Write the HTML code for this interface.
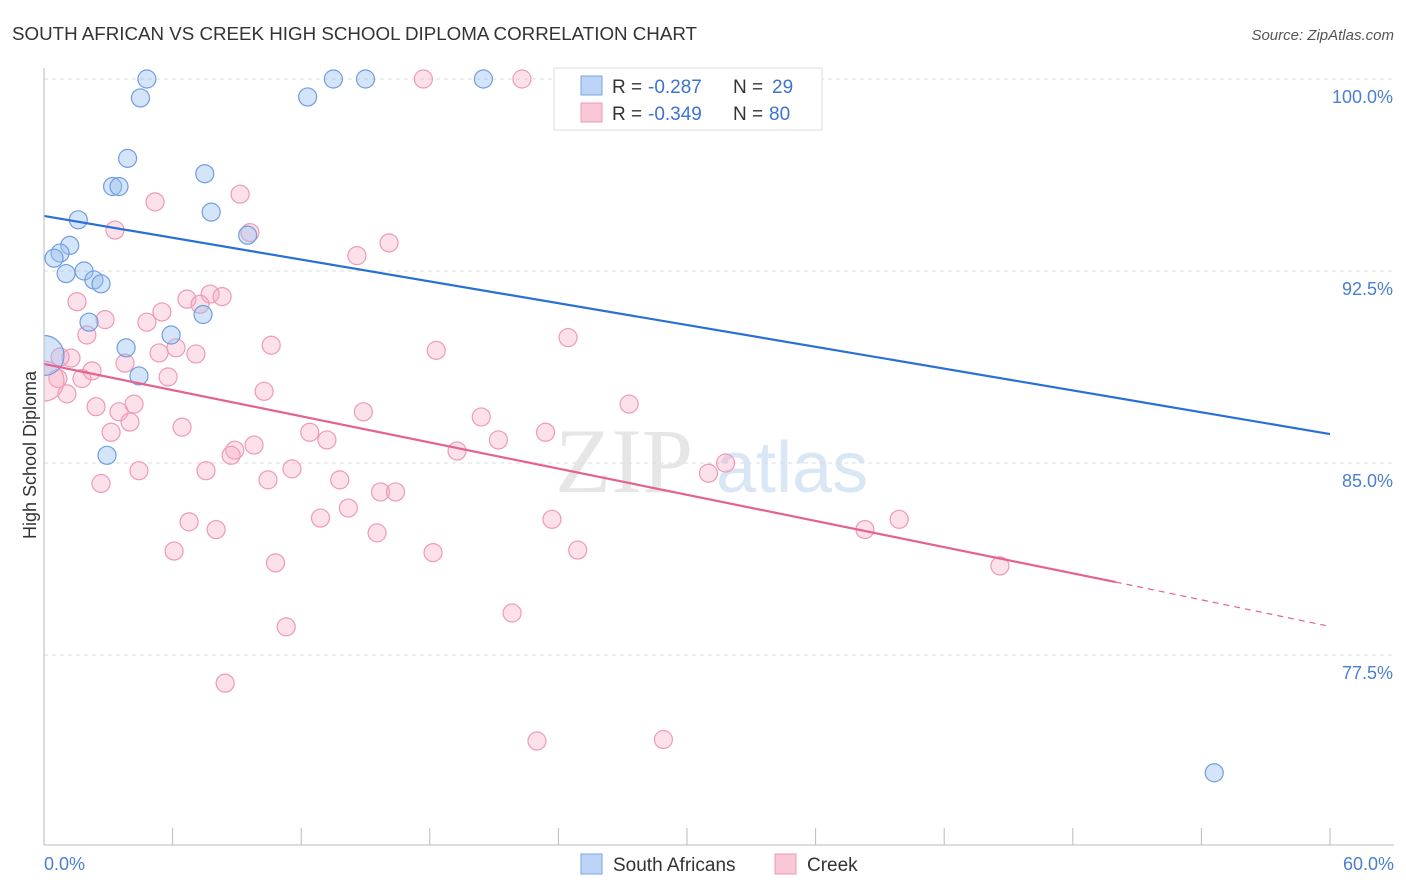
<!DOCTYPE html>
<html><head><meta charset="utf-8"><style>
body{margin:0;background:#fff;font-family:"Liberation Sans",sans-serif;}
svg{display:block}
</style></head><body>
<svg id="chart" width="1406" height="892">
<defs><clipPath id="plotclip"><rect x="44" y="40" width="1360" height="805"/></clipPath></defs>
<text x="12" y="40" font-size="18" fill="#333" textLength="685" lengthAdjust="spacingAndGlyphs">SOUTH AFRICAN VS CREEK HIGH SCHOOL DIPLOMA CORRELATION CHART</text>
<text x="1394" y="40" font-size="15" fill="#555" font-style="italic" text-anchor="end">Source: ZipAtlas.com</text>
<g><text x="555" y="492" font-size="92" fill="#e6e6e6" font-family="Liberation Serif,serif">ZIP</text><text x="716" y="492" font-size="72" fill="#d8e6f5">atlas</text></g>
<g id="grid"></g><g id="marks" clip-path="url(#plotclip)"></g><g id="lines"></g>
<line x1="44" y1="68" x2="44" y2="845" stroke="#bbb"/>
<line x1="44" y1="845" x2="1394" y2="845" stroke="#bbb"/>
<text x="36" y="455" font-size="18" fill="#333" transform="rotate(-90 36 455)" text-anchor="middle">High School Diploma</text>
<text x="44" y="870" font-size="18" fill="#4a7fd0">0.0%</text>
<text x="1394" y="870" font-size="18" fill="#4a7fd0" text-anchor="end">60.0%</text>
<g>
<rect x="554" y="68" width="268" height="62" fill="#fff" stroke="#ddd"/>
<rect x="581" y="76" width="21" height="19" fill="#bcd4f5" stroke="#7aa5e5"/>
<rect x="581" y="103" width="21" height="19" fill="#f9c8d7" stroke="#ee9ab5"/>
<text x="612" y="93" font-size="19" fill="#333">R =</text><text x="648" y="93" font-size="19" fill="#3b73d3">-0.287</text>
<text x="733" y="93" font-size="19" fill="#333">N =</text><text x="772" y="93" font-size="19" fill="#3b73d3">29</text>
<text x="612" y="120" font-size="19" fill="#333">R =</text><text x="648" y="120" font-size="19" fill="#3b73d3">-0.349</text>
<text x="733" y="120" font-size="19" fill="#333">N =</text><text x="769" y="120" font-size="19" fill="#3b73d3">80</text>
</g>
<g><rect x="581" y="854" width="21" height="20" fill="#bcd4f5" stroke="#7aa5e5"/><text x="613" y="871" font-size="19" fill="#333">South Africans</text></g>
<g><rect x="775" y="854" width="21" height="20" fill="#f9c8d7" stroke="#ee9ab5"/><text x="807" y="871" font-size="19" fill="#333">Creek</text></g>
</svg>
<script>
const yTicks=[100,92.5,85,77.5];
const yTickLabels=["100.0%","92.5%","85.0%","77.5%"];
const blueX=[4.8,4.5,13.5,15.0,20.5,12.3,33.6,3.9,3.2,3.5,7.5,7.8,1.6,9.5,1.2,0.75,0.47,1.87,1.03,2.33,2.66,7.42,2.1,5.93,3.83,4.43,2.94,0,54.6];
const blueY=[100,99.26,100,100,100,99.3,100,96.9,95.8,95.8,96.3,94.8,94.5,93.9,93.5,93.2,93.0,92.5,92.4,92.15,92.0,90.8,90.5,90.0,89.5,88.4,85.3,89.2,72.9];
const blueBig=[27];
const pinkX=[17.7,22.3,9.15,5.18,3.31,9.61,16.1,14.6,1.54,7.75,8.31,6.67,7.28,2.85,5.5,4.8,2.0,6.16,24.45,10.6,18.3,5.37,7.09,1.26,0.75,3.78,2.24,0.65,1.77,5.79,1.07,10.27,4.2,2.43,3.5,14.9,27.3,20.4,4.01,3.13,6.44,12.4,13.2,23.4,21.2,9.8,8.9,8.73,19.27,4.43,7.56,11.57,31.8,31.0,2.66,10.45,13.8,15.7,16.4,14.2,6.77,12.9,23.7,39.9,8.03,15.54,38.3,6.07,18.15,24.9,10.8,44.6,21.84,11.3,8.45,23.0,28.9,0];
const pinkY=[100,100,95.5,95.2,94.1,94.0,93.6,93.1,91.3,91.6,91.5,91.4,91.2,90.6,90.9,90.5,90.0,89.5,89.9,89.6,89.4,89.3,89.26,89.1,89.14,88.9,88.6,88.3,88.3,88.36,87.7,87.8,87.3,87.2,87.0,87.0,87.3,86.8,86.6,86.2,86.4,86.2,85.9,86.2,85.9,85.7,85.5,85.3,85.47,84.7,84.7,84.77,85.0,84.6,84.2,84.34,84.34,83.87,83.87,83.24,82.7,82.85,82.8,82.8,82.4,82.27,82.4,81.56,81.5,81.6,81.1,80.98,79.14,78.6,76.4,74.14,74.2,88.2];
const pinkBig=[77];
const blueLine=[94.65,86.13];
const pinkLine=[88.87,80.35,78.65];
const pinkLineBreakX=50;
const X=v=>44+v*(1330-44)/60;
const Y=v=>79+(100-v)*25.6;
const NS='http://www.w3.org/2000/svg';
function mk(t,a,p){const e=document.createElementNS(NS,t);for(const k in a)e.setAttribute(k,a[k]);p.appendChild(e);return e;}
const grid=document.getElementById('grid'),marks=document.getElementById('marks'),lines=document.getElementById('lines');
yTicks.forEach((t,i)=>{
 const l=mk('line',{x1:44,x2:1394,y1:Y(t),y2:Y(t),stroke:'#ddd','stroke-dasharray':'4,4'},grid);
 
 
 const tx=mk('text',{x:1393,y:Y(t)+24,'font-size':18,fill:'#4a7fd0','text-anchor':'end'},grid);
 tx.textContent=yTickLabels[i];
 
 
});
for(let i=0;i<=10;i++){
 const xx=44+i*(1330-44)/10;
 const t=mk('line',{x1:xx,x2:xx,y1:828,y2:845,stroke:'#bbb'},grid);
 
 
}
function pts(xs,ys,big,fill,stroke,name){
 xs.forEach((x,i)=>{
  const c=mk('circle',{cx:X(x),cy:Y(ys[i]),r:big.includes(i)?20:9,fill:fill,stroke:stroke,'stroke-width':1.2},marks);
  
  
 });
}
pts(pinkX,pinkY,pinkBig,'rgba(246,170,196,0.35)','#ee9ab5','creek-point');
pts(blueX,blueY,blueBig,'rgba(150,190,240,0.4)','#6f9de0','south-african-point');
const bl=mk('line',{x1:X(0),y1:Y(blueLine[0]),x2:X(60),y2:Y(blueLine[1]),stroke:'#2a6fd6','stroke-width':2.2},lines);


const pl=mk('line',{x1:X(0),y1:Y(pinkLine[0]),x2:X(pinkLineBreakX),y2:Y(pinkLine[1]),stroke:'#e5628f','stroke-width':2.2},lines);


const pd=mk('line',{x1:X(pinkLineBreakX),y1:Y(pinkLine[1]),x2:X(59.8),y2:Y(pinkLine[2]),stroke:'#e5628f','stroke-width':1.2,'stroke-dasharray':'6,5'},lines);


</script>
</body></html>
